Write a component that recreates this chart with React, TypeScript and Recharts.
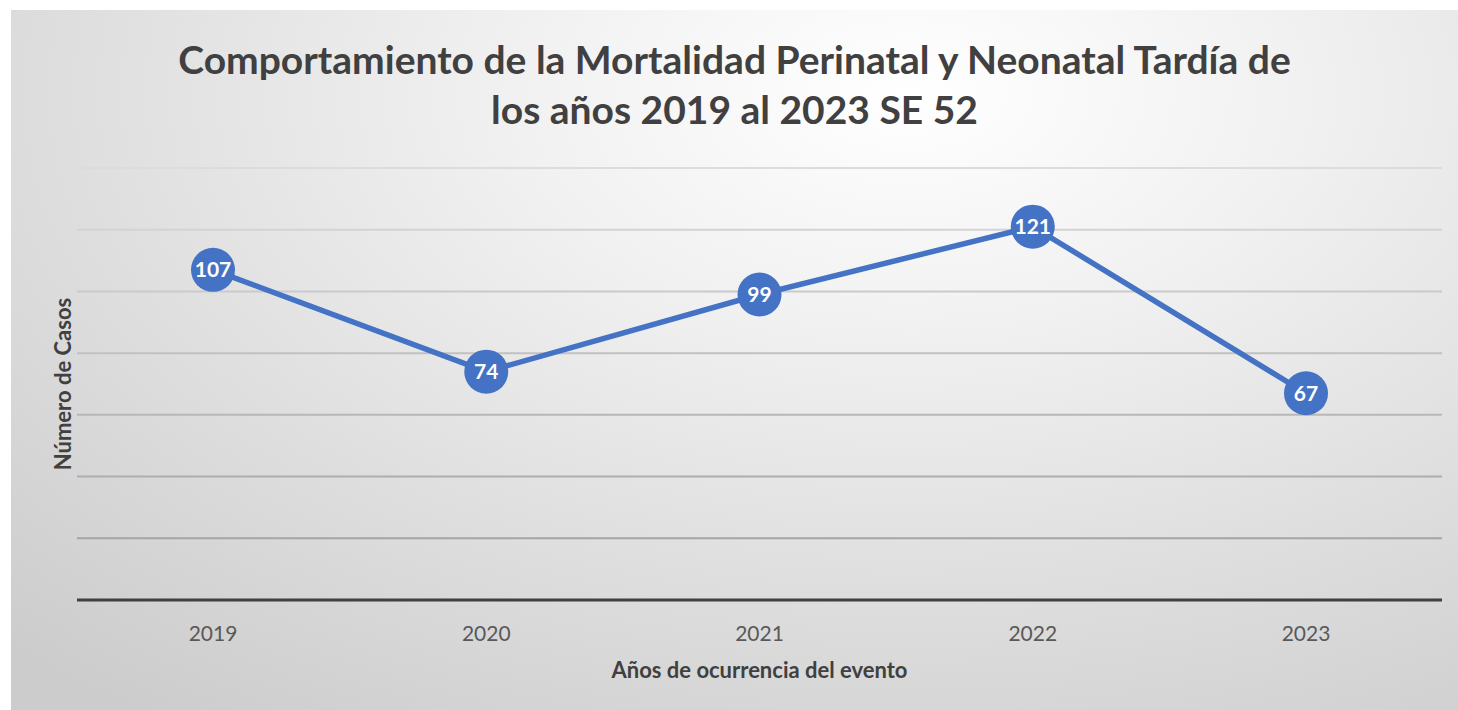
import React from "react";
import { LineChart, Line, XAxis, YAxis, ReferenceLine, LabelList, Label } from "recharts";

const years = ["2019", "2020", "2021", "2022", "2023"];
const casos = [107, 74, 99, 121, 67];
const yTicks = [0, 20, 40, 60, 80, 100, 120, 140];

const data = years.map((year, i) => ({ year, casos: casos[i] }));

const FONT = "Lato, 'Open Sans', sans-serif";

// gridlines fade from light (top) to darker (bottom)
const gridColor = (v: number) => {
  const t = 1 - v / 140;
  const c = Math.round(0xdc - t * (0xdc - 0x9c));
  return `rgb(${c},${c},${c})`;
};

export default function App() {
  return (
    <div
      style={{
        position: "absolute",
        left: 11,
        top: 10,
        width: 1447,
        height: 700,
        background:
          "radial-gradient(ellipse 90% 110% at 62% 12%, #ffffff 0%, #f1f1f1 30%, #dedede 65%, #cccccc 100%)",
        fontFamily: FONT,
      }}
    >
      <div
        style={{
          position: "absolute",
          left: 0,
          top: 24,
          width: 1447,
          textAlign: "center",
          fontSize: 39,
          lineHeight: "50px",
          fontWeight: 700,
          color: "#404040",
        }}
      >
        Comportamiento de la Mortalidad Perinatal y Neonatal Tardía de
        <br />
        los años 2019 al 2023 SE 52
      </div>
      <LineChart
        width={1447}
        height={700}
        data={data}
        margin={{ top: 158, right: 16, left: 0, bottom: 0 }}
        style={{ position: "absolute", left: 0, top: 0 }}
      >
        <XAxis
          dataKey="year"
          height={110}
          padding={{ left: 136, right: 136 }}
          tickLine={false}
          tickSize={0}
          tickMargin={26}
          axisLine={{ stroke: "#404040", strokeWidth: 3 }}
          tick={{ fill: "#595959", fontSize: 21, fontFamily: FONT }}
        >
          <Label
            value="Años de ocurrencia del evento"
            position="insideBottom"
            offset={32}
            style={{ fill: "#404040", fontSize: 22, fontWeight: 700, fontFamily: FONT }}
          />
        </XAxis>
        <YAxis
          width={66}
          domain={[0, 140]}
          ticks={yTicks}
          tick={false}
          tickLine={false}
          axisLine={false}
        >
          <Label
            content={({ viewBox }: any) => {
              const cx = 51;
              const cy = viewBox.y + viewBox.height / 2;
              return (
                <text
                  x={cx}
                  y={cy}
                  transform={`rotate(-90 ${cx} ${cy})`}
                  textAnchor="middle"
                  dominantBaseline="central"
                  fill="#404040"
                  fontSize={22}
                  fontWeight={700}
                  fontFamily={FONT}
                >
                  Número de Casos
                </text>
              );
            }}
          />
        </YAxis>
        {yTicks
          .filter((t) => t > 0)
          .map((t) => (
            <ReferenceLine key={t} y={t} stroke={gridColor(t)} strokeWidth={2} ifOverflow="extendDomain" />
          ))}
        <Line
          type="linear"
          dataKey="casos"
          stroke="#4472C4"
          strokeWidth={5.5}
          dot={{ r: 22, fill: "#4472C4", stroke: "none" }}
          activeDot={false}
          isAnimationActive={false}
        >
          <LabelList
            dataKey="casos"
            position="center"
            fill="#ffffff"
            fontSize={21}
            fontWeight={700}
            fontFamily={FONT}
          />
        </Line>
      </LineChart>
    </div>
  );
}
